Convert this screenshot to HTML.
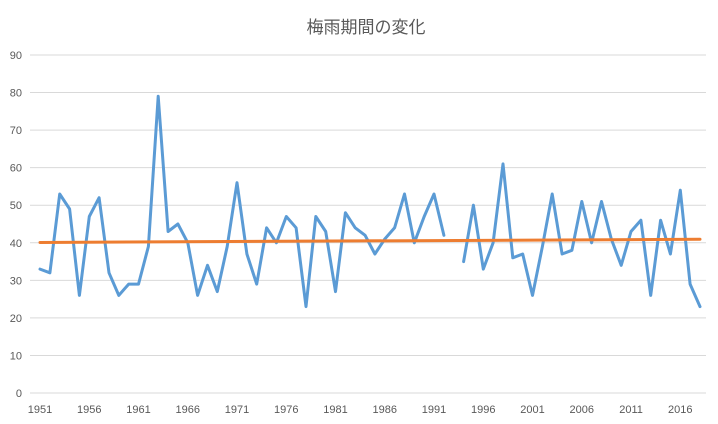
<!DOCTYPE html>
<html><head><meta charset="utf-8"><style>
body{margin:0;background:#fff;}
svg{display:block;font-family:"Liberation Sans","Noto Sans CJK JP",sans-serif;}
</style></head><body>
<svg id="chart" width="718" height="424" viewBox="0 0 718 424">
<rect width="718" height="424" fill="#fff"/>
<text x="366" y="33" text-anchor="middle" font-size="17" fill="#595959">梅雨期間の変化</text>
<g id="grid"></g><g id="yl"></g><g id="xl"></g><g id="series"></g>
</svg>
<script>
const years = [];
for (let y = 1951; y <= 2018; y++) years.push(y);
const values = [33,32,53,49,26,47,52,32,26,29,29,39,79,43,45,40,26,34,27,39,56,37,29,44,40,47,44,23,47,43,27,48,44,42,37,41,44,53,40,47,53,42,null,35,50,33,40,61,36,37,26,39,53,37,38,51,40,51,41,34,43,46,26,46,37,54,29,23];
const yTicks = [0,10,20,30,40,50,60,70,80,90];
const xTickYears = [1951,1956,1961,1966,1971,1976,1981,1986,1991,1996,2001,2006,2011,2016];

const NS = "http://www.w3.org/2000/svg";
const X0 = 40, X1 = 700, Y0 = 393, Y90 = 55;
const xs = yr => X0 + (yr - years[0]) * (X1 - X0) / (years[years.length-1] - years[0]);
const ys = v => Y0 - v * (Y0 - Y90) / 90;
function mk(tag, attrs, parent) { const e = document.createElementNS(NS, tag); for (const k in attrs) e.setAttribute(k, attrs[k]); parent.appendChild(e); return e; }

const grid = document.getElementById('grid'), yl = document.getElementById('yl'), xl = document.getElementById('xl'), ser = document.getElementById('series');
yTicks.forEach(t => {
  const l = mk('line', {x1:30, x2:706, y1:ys(t), y2:ys(t), stroke:'#d9d9d9', 'stroke-width':1}, grid);
  
  
  const tx = mk('text', {x:22, y:ys(t)+4, 'text-anchor':'end', 'font-size':11, fill:'#595959'}, yl);
  tx.textContent = t;
  
  
});
xTickYears.forEach(yr => {
  const tx = mk('text', {x:xs(yr), y:413, 'text-anchor':'middle', 'font-size':11, fill:'#595959'}, xl);
  tx.textContent = yr;
  
  
});

// data line with gaps
let d = '', pen = false;
years.forEach((yr, i) => {
  const v = values[i];
  if (v === null) { pen = false; return; }
  d += (pen ? 'L' : 'M') + xs(yr).toFixed(1) + ' ' + ys(v).toFixed(1) + ' ';
  pen = true;
});
const line = mk('path', {d:d, fill:'none', stroke:'#5b9bd5', 'stroke-width':3, 'stroke-linejoin':'round', 'stroke-linecap':'round'}, ser);



// linear trend
let n=0,sx=0,sy=0,sxx=0,sxy=0;
years.forEach((yr,i)=>{const v=values[i]; if(v===null)return; n++; sx+=yr; sy+=v; sxx+=yr*yr; sxy+=yr*v;});
const b=(n*sxy-sx*sy)/(n*sxx-sx*sx), a=(sy-b*sx)/n;
const y1=years[0], y2=years[years.length-1];
const trend = mk('line', {x1:xs(y1), y1:ys(a+b*y1), x2:xs(y2), y2:ys(a+b*y2), stroke:'#ed7d31', 'stroke-width':3, 'stroke-linecap':'round'}, ser);


</script>
</body></html>
